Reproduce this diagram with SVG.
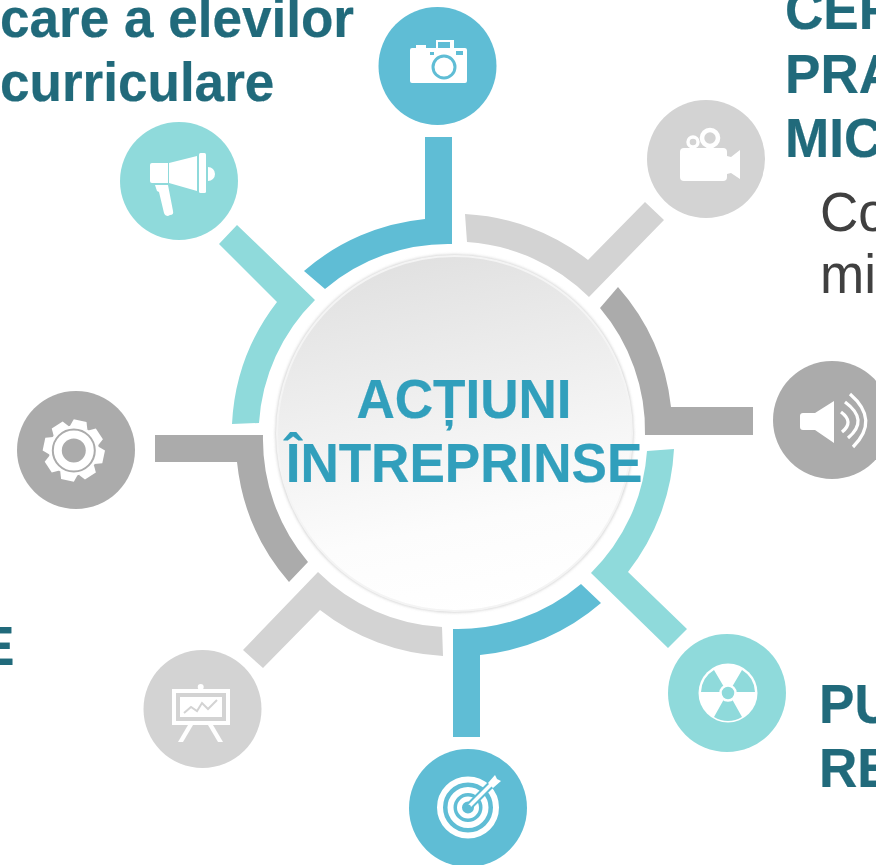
<svg xmlns="http://www.w3.org/2000/svg" xmlns:xlink="http://www.w3.org/1999/xlink" width="876" height="865" viewBox="0 0 876 865">
<style>
.t{font-family:"Liberation Sans",Arial,sans-serif;font-weight:700;font-size:55px;fill:#216A7B;stroke:#216A7B;stroke-width:.25px}
.b{font-family:"Liberation Sans",Arial,sans-serif;font-size:55px;fill:#404040}
.c{font-family:"Liberation Sans",Arial,sans-serif;font-weight:700;font-size:55px;fill:#319FBC;stroke:#319FBC;stroke-width:.25px;text-anchor:middle}
.blue{fill:#5FBDD5}.teal{fill:#8FDADB}.lg{fill:#D3D3D3}.dg{fill:#ABABAB}
.w{fill:#fff}
</style>
<defs>
<linearGradient id="disc" x1="0.4" y1="0" x2="0.6" y2="1">
<stop offset="0" stop-color="#E1E1E1"/><stop offset="0.75" stop-color="#FCFCFC"/><stop offset="1" stop-color="#FFFFFF"/>
</linearGradient>
<filter id="soft" x="-10%" y="-10%" width="120%" height="120%"><feGaussianBlur stdDeviation="1.6"/></filter>
<polygon id="tooth" points="-9,-23 -6.500,-30.500 6.500,-30.500 9,-23" fill="#fff"/>
</defs>
<rect width="876" height="865" fill="#fff"/>
<g id="labels">
<text class="t" transform="matrix(.965 0 0 1 0 37)">care a elevilor</text>
<text class="t" transform="matrix(.965 0 0 1 0 101)">curriculare</text>
<text class="t" transform="matrix(.965 0 0 1 785 29)">CER</text>
<text class="t" transform="matrix(.965 0 0 1 785 93)">PRA</text>
<text class="t" transform="matrix(.965 0 0 1 785 157)">MIC</text>
<text class="b" transform="matrix(.965 0 0 1 820 231)">Co</text>
<text class="b" transform="matrix(.965 0 0 1 820 293)">mi</text>
<text class="t" transform="matrix(.965 0 0 1 -21 665)">E</text>
<text class="t" transform="matrix(.965 0 0 1 819 723)">PU</text>
<text class="t" transform="matrix(.965 0 0 1 819 787)">RE</text>
</g>
<g id="connectors">
<path class="blue" d="M425,137H452V244A190,190 0 0 0 325,289L304,271A217,217 0 0 1 425,219Z"/>
<path class="lg" d="M465,214A217,217 0 0 1 588,260L645,202L664,220L589,297A190,190 0 0 0 467,242Z"/>
<path class="dg" d="M618,287A217,217 0 0 1 671,407H753V435H645A190,190 0 0 0 600,308Z"/>
<path class="teal" d="M674,449A217,217 0 0 1 628,572L687,629L668,648L591,573A190,190 0 0 0 647,451Z"/>
<path class="blue" d="M581,584L601,603A217,217 0 0 1 480,655V737H453V629A190,190 0 0 0 581,584Z"/>
<path class="lg" d="M442,627L443,656A217,217 0 0 1 320,610L263,668L243,650L318,572A190,190 0 0 0 442,627Z"/>
<path class="dg" d="M155,435H263A190,190 0 0 0 308,562L289,582A217,217 0 0 1 237,462H155Z"/>
<path class="teal" d="M237,225L315,300A190,190 0 0 0 259,423L232,424A217,217 0 0 1 277,302L219,244Z"/>
</g>
<g id="center">
<circle cx="454.500" cy="433.500" r="179" fill="#CFCFCF" filter="url(#soft)"/>
<circle cx="454.500" cy="433.500" r="177.500" fill="url(#disc)" stroke="#F4F4F4" stroke-width="2"/>
<text class="c" transform="matrix(.965 0 0 1 464 418)">ACȚIUNI</text>
<text class="c" transform="matrix(.965 0 0 1 464 482)">ÎNTREPRINSE</text>
</g>
<g id="node-camera">
<circle class="blue" cx="437.500" cy="66" r="59"/>
<path class="w" d="M412,48H416V45H426V48H436V40H454V48H465Q467,48 467,50V81Q467,83 465,83H412Q410,83 410,81V50Q410,48 412,48Z"/>
<rect class="blue" x="438" y="42" width="12" height="6"/>
<rect class="blue" x="430" y="52" width="4" height="3"/>
<rect class="blue" x="456" y="51" width="7" height="4"/>
<circle cx="444" cy="67" r="11" fill="#fff" stroke="#5FBDD5" stroke-width="3"/>
</g>
<g id="node-megaphone">
<circle class="teal" cx="179" cy="181" r="59"/>
<path class="w" d="M152,163H168V183H152Q150,183 150,181V165Q150,163 152,163Z"/>
<polygon class="w" points="169,163 197,156 197,191 169,183"/>
<rect class="w" x="199" y="153" width="7" height="40" rx="1.500"/>
<path class="w" d="M208,167A7,7 0 0 1 208,181Z"/>
<path class="w" d="M155,185H168L173,211Q174,215 170,215L168,216Q165,216 164,213L159,192L157,191Z"/>
</g>
<g id="node-video">
<circle class="lg" cx="706" cy="159" r="59"/>
<rect class="w" x="680" y="148" width="47" height="33" rx="4"/>
<polygon class="w" points="727,156 731,157 740,150 740,179 731,173 727,174"/>
<circle cx="710" cy="138" r="8" fill="none" stroke="#fff" stroke-width="4.600"/>
<circle cx="693" cy="142" r="5" fill="none" stroke="#fff" stroke-width="3.400"/>
</g>
<g id="node-speaker">
<circle class="dg" cx="832" cy="420" r="59"/>
<path class="w" d="M803,413H815L834,401V443L815,430H803Q800,430 800,427V416Q800,413 803,413Z"/>
<g fill="none" stroke="#fff" stroke-width="3.300">
<path d="M841,412Q854.500,422 842,432"/>
<path d="M845,402Q869.500,420 848,438"/>
<path d="M850,394Q880,420 853,447"/>
</g>
</g>
<g id="node-radiation">
<circle class="teal" cx="727" cy="693" r="59"/>
<circle class="w" cx="728" cy="693" r="29.500"/>
<g class="teal">
<path d="M722,692H701A27,27 0 0 1 714,670L724,687Q722,689 722,692Z"/>
<path d="M734,692H755A27,27 0 0 0 742,670L732,687Q734,689 734,692Z"/>
<path d="M723.500,700L714,717A27,27 0 0 0 742,717L732.500,700Q728,702 723.500,700Z"/>
</g>
<circle cx="728" cy="693" r="7.500" fill="#8FDADB" stroke="#fff" stroke-width="2.500"/>
</g>
<g id="node-target">
<circle class="blue" cx="468" cy="808" r="59"/>
<g fill="none" stroke="#fff">
<circle cx="468" cy="807.500" r="28" stroke-width="6"/>
<circle cx="468" cy="807.500" r="17.500" stroke-width="6"/>
<circle cx="468" cy="807.500" r="8.500" stroke-width="5"/>
</g>
<path d="M468,807.500L491,784.500" stroke="#5FBDD5" stroke-width="7.500" fill="none"/>
<path d="M468,807.500L491,784.500" stroke="#fff" stroke-width="3.500" fill="none"/>
<polygon class="w" points="488,783 495,775 497,779 501,781 493,788"/>
<circle class="blue" cx="468" cy="807.500" r="3"/>
</g>
<g id="node-gear">
<circle class="dg" cx="76" cy="450" r="59"/>
<g transform="translate(73.800,450.500)">
<use xlink:href="#tooth" href="#tooth" transform="rotate(12)"/>
<use xlink:href="#tooth" href="#tooth" transform="rotate(57)"/>
<use xlink:href="#tooth" href="#tooth" transform="rotate(102)"/>
<use xlink:href="#tooth" href="#tooth" transform="rotate(147)"/>
<use xlink:href="#tooth" href="#tooth" transform="rotate(192)"/>
<use xlink:href="#tooth" href="#tooth" transform="rotate(237)"/>
<use xlink:href="#tooth" href="#tooth" transform="rotate(282)"/>
<use xlink:href="#tooth" href="#tooth" transform="rotate(327)"/>
<circle class="w" r="25"/>
<circle r="21" fill="none" stroke="#ABABAB" stroke-width="2"/>
<circle class="dg" r="12"/>
</g>
</g>
<g id="node-presentation">
<circle class="lg" cx="202.500" cy="709" r="59"/>
<circle class="w" cx="200.700" cy="687" r="3"/>
<rect class="w" x="172" y="689" width="58" height="36"/>
<rect x="178" y="695" width="46" height="24" fill="#fff" stroke="#D3D3D3" stroke-width="4"/>
<polyline points="184,713 191,707 197,711 202,703 208,709 217,700" fill="none" stroke="#D3D3D3" stroke-width="2"/>
<polygon class="w" points="188,725 193,725 183,742 178,742"/>
<polygon class="w" points="208,725 213,725 223,742 218,742"/>
</g>
</svg>
